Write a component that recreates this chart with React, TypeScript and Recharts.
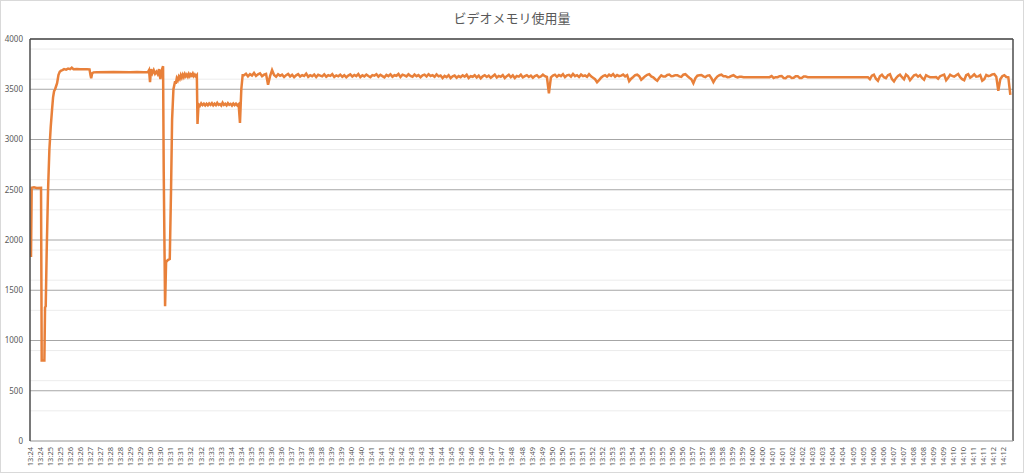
import { LineChart, Line, XAxis, YAxis, CartesianGrid, ReferenceLine } from "recharts";

// minutes shown on the category axis (each minute appears twice: :00 and :30)
const minutes = [
  "13:24", "13:25", "13:26", "13:27", "13:28", "13:29", "13:30", "13:31", "13:32", "13:33",
  "13:34", "13:35", "13:36", "13:37", "13:38", "13:39", "13:40", "13:41", "13:42", "13:43",
  "13:44", "13:45", "13:46", "13:47", "13:48", "13:49", "13:50", "13:51", "13:52", "13:53",
  "13:54", "13:55", "13:56", "13:57", "13:58", "13:59", "14:00", "14:01", "14:02", "14:03",
  "14:04", "14:05", "14:06", "14:07", "14:08", "14:09", "14:10", "14:11", "14:12",
];
const xTickLabels = minutes.flatMap((m) => [m, m]);
const xTicks = xTickLabels.map((_, i) => i * 30);

const yTicks = [0, 500, 1000, 1500, 2000, 2500, 3000, 3500, 4000];
const minorLevels = [
  100, 200, 300, 400, 600, 700, 800, 900, 1100, 1200, 1300, 1400, 1600, 1700, 1800, 1900,
  2100, 2200, 2300, 2400, 2600, 2700, 2800, 2900, 3100, 3200, 3300, 3400, 3600, 3700, 3800, 3900,
];

// [seconds since 13:24:00, MB]
const startupTrace: [number, number][] = [
  [3, 1830], [5, 2520], [12, 2525], [20, 2518], [33, 2520], [35, 800], [43, 800], [45, 1330],
  [47, 1340], [50, 1900], [54, 2500], [58, 2900], [62, 3125], [66, 3300], [69, 3420], [72, 3480],
  [75, 3500], [78, 3530], [81, 3560], [85, 3640], [89, 3675], [93, 3685], [97, 3690], [102, 3700],
  [108, 3695], [114, 3705], [120, 3700], [125, 3715], [130, 3700], [140, 3702], [150, 3700],
  [160, 3700], [170, 3700], [178, 3698], [181, 3640], [183, 3610], [186, 3660], [190, 3668],
  [200, 3670], [250, 3672], [300, 3670], [320, 3672], [340, 3668], [353, 3672], [356, 3690],
  [359, 3570], [362, 3700], [366, 3660], [370, 3690], [374, 3655], [378, 3675], [382, 3650],
  [386, 3700], [390, 3600], [393, 3680], [396, 3710], [398, 3730],
];

const recoveryTrace: [number, number][] = [
  [400, 2670], [404, 1340], [407, 1780], [412, 1800], [418, 1810], [422, 2530], [425, 3200],
  [429, 3500], [434, 3580], [436, 3555], [439, 3610], [442, 3590], [445, 3625], [448, 3605],
  [451, 3640], [454, 3615], [457, 3645], [460, 3622], [463, 3650], [466, 3628], [469, 3645],
  [472, 3625], [475, 3652], [478, 3630], [481, 3648], [484, 3635], [487, 3655], [490, 3630],
  [493, 3645], [496, 3628], [499, 3640],
];

const lowPlateauTrace: [number, number][] = [
  [501, 3155], [504, 3350], [508, 3335], [512, 3360], [516, 3342], [520, 3356], [524, 3338],
  [528, 3355], [532, 3340], [536, 3358], [540, 3345], [544, 3362], [548, 3340], [552, 3356],
  [556, 3342], [560, 3365], [564, 3345], [568, 3352], [572, 3338], [576, 3366], [580, 3344],
  [584, 3355], [588, 3340], [592, 3362], [596, 3346], [600, 3355], [604, 3338], [608, 3358],
  [612, 3342], [616, 3356], [620, 3340], [624, 3352], [628, 3165], [632, 3500], [636, 3640],
];

// samples every 6 s from 13:34:40
const steadyStart = 640;
const steadyStep = 6;
const steadyValues = [
  3640, 3655, 3628, 3650, 3636, 3662, 3632, 3648, 3658, 3630, 3645, 3652,
  3545, 3630, 3690, 3642, 3625, 3650, 3634, 3646, 3622, 3640, 3652, 3628,
  3644, 3620, 3638, 3650, 3626, 3641, 3632, 3655, 3624, 3640, 3630, 3646,
  3621, 3644, 3636, 3628, 3648, 3625, 3640, 3633, 3650, 3622, 3638, 3629,
  3645, 3624, 3640, 3619, 3636, 3648, 3627, 3642, 3630, 3652, 3621, 3639,
  3628, 3646, 3632, 3620, 3641, 3635, 3650, 3626, 3644, 3631, 3618, 3642,
  3630, 3648, 3625, 3640, 3634, 3652, 3622, 3645, 3638, 3628, 3649, 3633,
  3624, 3646, 3630, 3641, 3619, 3638, 3645, 3627, 3650, 3632, 3640, 3624,
  3648, 3629, 3637, 3612, 3633, 3621, 3640, 3610, 3628, 3636, 3615, 3631,
  3620, 3638, 3626, 3644, 3612, 3630, 3624, 3640, 3618, 3636, 3608, 3629,
  3640, 3622, 3636, 3614, 3630, 3646, 3618, 3633, 3624, 3641, 3612, 3630,
  3644, 3620, 3638, 3612, 3632, 3626, 3645, 3618, 3630, 3640, 3622, 3636,
  3615, 3632, 3640, 3620, 3628, 3645, 3630, 3622, 3460, 3618, 3636, 3645,
  3624, 3642, 3630, 3650, 3620, 3638, 3644, 3626, 3652, 3630, 3640, 3622,
  3646, 3631, 3638, 3624, 3650, 3628, 3615, 3600, 3570, 3590, 3615, 3632,
  3640, 3625, 3645, 3632, 3650, 3624, 3641, 3630, 3636, 3646, 3628, 3640,
  3580, 3605, 3622, 3640, 3645, 3630, 3595, 3612, 3630, 3644, 3650, 3628,
  3618, 3600, 3585, 3615, 3638, 3626, 3627, 3642, 3646, 3630, 3632, 3640,
  3640, 3628, 3624, 3645, 3650, 3632, 3615, 3600, 3560, 3610, 3635, 3640,
  3642, 3628, 3620, 3636, 3638, 3610, 3570, 3605, 3628, 3640, 3645, 3630,
  3630, 3620, 3622, 3632, 3640, 3626, 3618, 3624, 3625, 3620, 3620, 3620,
  3620, 3620, 3620, 3620, 3620, 3620, 3620, 3620, 3620, 3620, 3620, 3632,
  3612, 3620, 3620, 3630, 3632, 3612, 3610, 3628, 3628, 3612, 3614, 3630,
  3630, 3612, 3612, 3626, 3626, 3620, 3620, 3620, 3620, 3620, 3620, 3620,
  3620, 3620, 3620, 3620, 3620, 3620, 3620, 3620, 3620, 3620, 3620, 3620,
  3620, 3620, 3620, 3620, 3620, 3620, 3620, 3620, 3620, 3620, 3620, 3620,
  3600, 3635, 3645, 3605, 3585, 3630, 3645, 3620, 3610, 3640, 3650, 3600,
  3578, 3610, 3632, 3645, 3620, 3600, 3647, 3630, 3590, 3615, 3638, 3645,
  3625, 3640, 3612, 3595, 3640, 3628, 3620, 3620, 3620, 3622, 3605, 3630,
  3638, 3645, 3590, 3615, 3644, 3632, 3625, 3640, 3652, 3620, 3600, 3590,
  3640, 3650, 3615, 3630, 3648, 3625, 3628, 3640, 3585, 3600, 3642, 3630,
  3636, 3648, 3650, 3625, 3485, 3600, 3630, 3640, 3622, 3618, 3445,
];

const data = [
  ...startupTrace.map(([t, v]) => ({ t, v })),
  ...recoveryTrace.map(([t, v]) => ({ t, v })),
  ...lowPlateauTrace.map(([t, v]) => ({ t, v })),
  ...steadyValues.map((v, i) => ({ t: steadyStart + i * steadyStep, v })),
];

const TEXT = "#595959";
const FONT = "'Noto Sans', 'Noto Sans CJK JP', sans-serif";

const XTick = (props: any) => {
  const { x, y, payload } = props;
  const label = xTickLabels[Math.round(payload.value / 30)];
  return (
    <text
      x={x}
      y={y}
      transform={`rotate(-90 ${x} ${y})`}
      textAnchor="end"
      dominantBaseline="central"
      fontSize={7.5}
      fontFamily={FONT}
      fill={TEXT}
    >
      {label}
    </text>
  );
};

export default function App() {
  return (
    <div
      style={{
        position: "absolute",
        left: 0,
        top: 0,
        width: 1024,
        height: 473,
        border: "1px solid #d9d9d9",
        boxSizing: "border-box",
        background: "#fff",
      }}
    >
      <div
        style={{
          position: "absolute",
          top: 7,
          left: 0,
          width: "100%",
          textAlign: "center",
          fontFamily: "'Noto Sans CJK JP', sans-serif",
          fontSize: 13,
          color: TEXT,
        }}
      >
        ビデオメモリ使用量
      </div>
      <LineChart width={1022} height={471} data={data} margin={{ top: 38, right: 10, bottom: 0, left: 0 }}>
        <CartesianGrid vertical={false} horizontalValues={minorLevels} stroke="#ececec" />
        <CartesianGrid vertical={false} stroke="#a6a6a6" />
        <XAxis
          dataKey="t"
          type="number"
          domain={[0, 2940]}
          ticks={xTicks}
          interval={0}
          tick={<XTick />}
          tickLine={false}
          tickSize={0}
          tickMargin={6}
          height={31}
          axisLine={{ stroke: "#bfbfbf" }}
          allowDataOverflow
        />
        <YAxis
          type="number"
          domain={[0, 4000]}
          ticks={yTicks}
          width={29}
          tickLine={false}
          tickSize={0}
          tickMargin={7}
          axisLine={{ stroke: "#4d4d4d", strokeWidth: 1.5 }}
          tick={{ fontSize: 8, fill: TEXT, fontFamily: FONT }}
        />
        <ReferenceLine y={4000} stroke="#4d4d4d" strokeWidth={1.5} />
        <ReferenceLine x={2940} stroke="#4d4d4d" strokeWidth={1.5} />
        <Line
          type="linear"
          dataKey="v"
          stroke="#E8803A"
          strokeWidth={2.5}
          dot={false}
          isAnimationActive={false}
        />
      </LineChart>
    </div>
  );
}
